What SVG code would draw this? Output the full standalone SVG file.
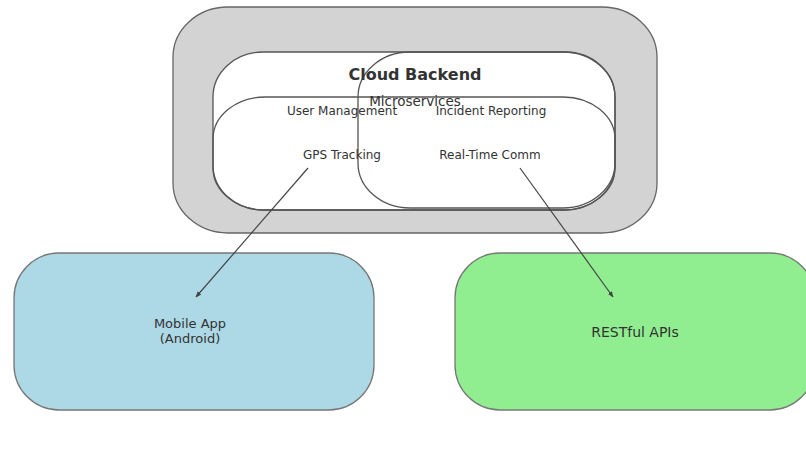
<svg xmlns="http://www.w3.org/2000/svg" width="806" height="459" viewBox="0 0 806 459">
<style>
.t{font-family:"DejaVu Sans",sans-serif;fill:#333;text-anchor:middle}
.o{fill:none;stroke:#555;stroke-width:1.3}
.w{fill:#fff;stroke:none}
.c{stroke:#444;stroke-width:1.2;fill:none;marker-end:url(#ah)}
</style>
<defs>
<marker id="ah" viewBox="0 0 10 10" refX="9" refY="5" markerWidth="6" markerHeight="6" orient="auto-start-reverse" markerUnits="userSpaceOnUse">
<path d="M0,1 L10,5 L0,9 z" fill="#444"/>
</marker>
</defs>
<rect width="806" height="459" fill="#fff"/>
<g id="cloud-backend">
<rect x="173" y="7" width="484" height="226" rx="55" ry="50" fill="#d3d3d3" stroke="#666" stroke-width="1.3"/>
<rect class="w" x="213" y="52" width="402" height="158" rx="50" ry="45"/>
<rect class="o" x="213" y="52" width="402" height="158" rx="50" ry="45"/>
<rect class="o" x="358" y="52" width="257" height="156" rx="52" ry="45"/>
<rect class="o" x="213" y="97" width="402" height="113" rx="52" ry="42"/>
<text class="t" x="415" y="80" font-size="16" font-weight="bold">Cloud Backend</text>
</g>
<g id="microservices">
<text class="t" x="415" y="106" font-size="13.5">Microservices</text>
</g>
<g id="user-management"><text class="t" x="342" y="115" font-size="12">User Management</text></g>
<g id="incident-reporting"><text class="t" x="491" y="115" font-size="12">Incident Reporting</text></g>
<g id="gps-tracking"><text class="t" x="342" y="159" font-size="12">GPS Tracking</text></g>
<g id="real-time-comm"><text class="t" x="490" y="159" font-size="12">Real-Time Comm</text></g>
<g id="mobile-app">
<rect x="14" y="253" width="360" height="157" rx="45" ry="45" fill="#add8e6" stroke="#777" stroke-width="1.3"/>
<text class="t" x="190" y="328" font-size="13">Mobile App</text>
<text class="t" x="190" y="343" font-size="13">(Android)</text>
</g>
<g id="restful-apis">
<rect x="455" y="253" width="360" height="157" rx="45" ry="45" fill="#90ee90" stroke="#777" stroke-width="1.3"/>
<text class="t" x="635" y="337" font-size="14">RESTful APIs</text>
</g>
<g id="connectors">
<line class="c" x1="308" y1="168" x2="196" y2="297"/>
<line class="c" x1="520" y1="168" x2="613" y2="297"/>
</g>
</svg>
